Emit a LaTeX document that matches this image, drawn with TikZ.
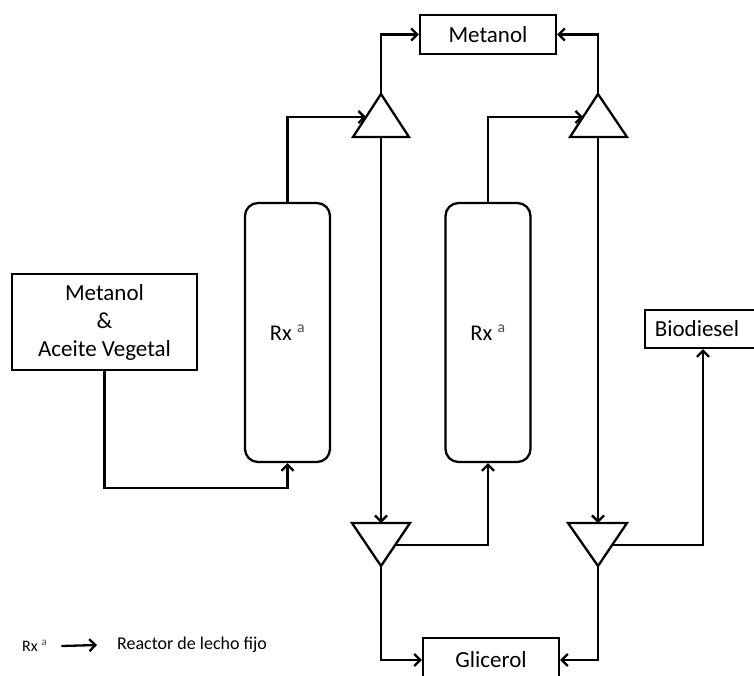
\documentclass[tikz,border=0pt]{standalone}
\usepackage{fontspec}
\setmainfont{Carlito}
\usetikzlibrary{arrows.meta,calc}
\begin{document}
\begin{tikzpicture}[x=1pt,y=-1pt,
  line width=2.3pt,
  arr/.style={-{Straight Barb[length=6pt,width=12pt,line width=2.3pt]}},
  box/.style={draw,rectangle,inner sep=0pt,font=\fontsize{23}{26}\selectfont,align=center},
  reactor/.style={draw,rectangle,rounded corners=13pt,inner sep=0pt,minimum width=85pt,minimum height=259pt,font=\fontsize{22.5}{26}\selectfont},
  tri/.style={draw,line join=miter}]
\useasboundingbox (0,0) rectangle (754,675);
\clip (0,0) rectangle (754,675);
% boxes
\node[box,minimum width=136pt,minimum height=39pt] (metanol) at (488,34.5) {Metanol};
\node[box,minimum width=185pt,minimum height=96pt] (feed) at (104.5,322) {Metanol\\[2pt]\&\\[2pt]Aceite Vegetal};
\node[box,minimum width=118pt,minimum height=38pt] (biodiesel) at (704,329) {\hspace*{-14pt}Biodiesel};
\node[box,minimum width=136pt,minimum height=44pt] (glicerol) at (491,660) {Glicerol};
\node[reactor] (rx1) at (287.5,332.5) {Rx \textsuperscript{\color{black!70}a}};
\node[reactor] (rx2) at (488,332.5) {Rx \textsuperscript{\color{black!70}a}};
% triangles (separators)
\coordinate (t1a) at (381,94); \coordinate (t1b) at (381,137); \coordinate (t1l) at (366,117);
\draw[tri] (t1a) -- (409,137) -- (353,137) -- cycle;
\coordinate (t2a) at (598,94); \coordinate (t2b) at (598,137); \coordinate (t2l) at (583,117);
\draw[tri] (t2a) -- (627,137) -- (570,137) -- cycle;
\coordinate (b1t) at (381,523); \coordinate (b1a) at (381,566); \coordinate (b1r) at (395,545);
\draw[tri] (b1a) -- (352,523) -- (410,523) -- cycle;
\coordinate (b2t) at (598,523); \coordinate (b2a) at (598,566); \coordinate (b2r) at (612,545);
\draw[tri] (b2a) -- (568,523) -- (627,523) -- cycle;
% connectors
\draw[arr] (t1a) |- (metanol.west);
\draw[arr] (t2a) |- (metanol.east);
\draw[arr] (rx1.north) |- (t1l);
\draw[arr] (rx2.north) |- (t2l);
\draw[arr] (t1b) -- (b1t);
\draw[arr] (t2b) -- (b2t);
\draw[arr] (b1r) -| (rx2.south);
\draw[arr] (b2r) -| ([xshift=-1pt]biodiesel.south);
\draw[arr] (feed.south) -- ++(0,117) -| (rx1.south);
\draw[arr] (b1a) |- (glicerol.west);
\draw[arr] (b2a) |- (glicerol.east);
% legend
\node[anchor=west,inner sep=0pt,font=\fontsize{16}{18}\selectfont] (legrx) at (21,646) {Rx \textsuperscript{\color{black!70}a}};
\node[anchor=west,inner sep=0pt,font=\fontsize{18}{20}\selectfont] (legtxt) at (116,645) {Reactor de lecho fijo};
\draw[arr] ([xshift=13pt]legrx.east) -- ([xshift=-19pt]legtxt.west);
\end{tikzpicture}
\end{document}
